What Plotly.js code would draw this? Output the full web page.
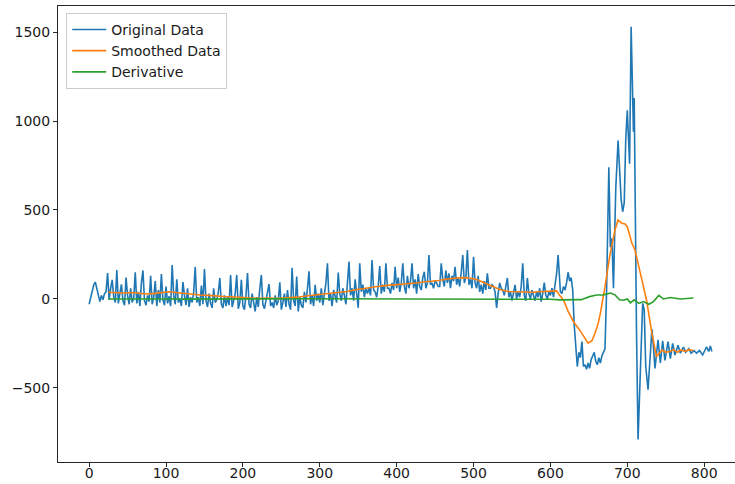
<!DOCTYPE html>
<html>
<head>
<meta charset="utf-8">
<script src="https://cdn.plot.ly/plotly-3.0.1.min.js"></script>
<style>
  html, body { margin: 0; padding: 0; overflow: hidden; background: #fff; }
  #chart { width: 745px; height: 484px; }
</style>
</head>
<body>
<div id="chart"></div>
<script>
// Raw signal: noisy baseline section sampled every 2 units
const baseX = [
  0,2,4,6,8,10,12,14,16,18,
  20,22,24,26,28,30,32,34,36,38,
  40,42,44,46,48,50,52,54,56,58,
  60,62,64,66,68,70,72,74,76,78,
  80,82,84,86,88,90,92,94,96,98,
  100,102,104,106,108,110,112,114,116,118,
  120,122,124,126,128,130,132,134,136,138,
  140,142,144,146,148,150,152,154,156,158,
  160,162,164,166,168,170,172,174,176,178,
  180,182,184,186,188,190,192,194,196,198,
  200,202,204,206,208,210,212,214,216,218,
  220,222,224,226,228,230,232,234,236,238,
  240,242,244,246,248,250,252,254,256,258,
  260,262,264,266,268,270,272,274,276,278,
  280,282,284,286,288,290,292,294,296,298,
  300,302,304,306,308,310,312,314,316,318,
  320,322,324,326,328,330,332,334,336,338,
  340,342,344,346,348,350,352,354,356,358,
  360,362,364,366,368,370,372,374,376,378,
  380,382,384,386,388,390,392,394,396,398,
  400,402,404,406,408,410,412,414,416,418,
  420,422,424,426,428,430,432,434,436,438,
  440,442,444,446,448,450,452,454,456,458,
  460,462,464,466,468,470,472,474,476,478,
  480,482,484,486,488,490,492,494,496,498,
  500,502,504,506,508,510,512,514,516,518,
  520,522,524,526,528,530,532,534,536,538,
  540,542,544,546,548,550,552,554,556,558,
  560,562,564,566,568,570,572,574,576,578,
  580,582,584,586,588,590,592,594,596,598,
  600,602,604,606,608,610
];
const baseY = [
  -30,10,45,80,95,60,15,-15,20,-5,
  30,40,146,-5,60,107,10,-20,163,-25,
  30,82,-10,-35,120,20,-30,60,-20,5,
  150,-25,40,-40,90,160,-10,-35,20,-15,
  130,-30,10,100,-40,50,-20,140,-5,-35,
  70,-25,15,-40,190,20,-30,110,-20,0,
  -40,95,20,-35,60,-45,10,-20,40,180,
  -20,10,-40,75,-30,168,-10,-45,30,-25,
  -50,60,-20,-5,35,118,-30,-50,20,-40,
  10,-35,135,-45,-10,30,135,-55,-20,107,
  -40,-60,20,146,-30,-50,30,-20,-70,10,
  -45,60,135,-30,-55,-10,40,84,-40,-20,
  -50,20,-35,-10,94,-60,-20,30,-45,50,
  -30,-60,175,-10,-40,126,-70,10,-35,-50,
  40,-20,60,155,-30,20,-40,80,-10,30,
  -20,60,-35,20,90,200,-10,30,-40,50,
  10,-20,148,30,-10,60,20,-30,90,210,
  20,60,-10,110,30,-50,200,40,80,10,
  60,30,60,20,219,50,40,10,70,185,
  30,80,40,200,60,60,30,90,50,180,
  60,120,40,90,200,70,30,130,60,100,
  200,60,110,30,140,70,50,120,153,60,
  90,247,80,90,60,100,90,70,70,200,
  110,70,160,90,144,60,130,100,180,80,
  120,70,150,247,90,120,275,80,110,60,
  237,90,60,130,40,80,30,100,50,144,
  60,60,80,70,40,-50,30,90,60,50,
  20,60,118,10,40,-10,30,79,0,40,
  10,70,200,20,-10,118,30,0,50,20,
  -10,40,10,60,-15,30,92,20,0,40,
  20,60,10,80,140,247
];

// Raw signal: transient section, irregular sample positions
const burstX = [
  612,613,615,617,619,621,623,625,627,629,
  631,633,635,637,639,641,643,645,647,649,
  651,653,655,657,659,661,663,665,667,669,
  671,673,676,678,680,682,685,688,690,692,
  694,696,698,700,701,703,705,707,708,709,
  710,712,714,716,718,720,722,724,727,730,
  732,734,736,740,743,746,749,753,756,759,
  762,766,769,773,776,780,783,787,790,794,
  798,803,806,808,810
];
const burstY = [
  130,40,30,70,50,90,150,100,120,50,
  -150,-300,-380,-300,-330,-240,-380,-370,-395,-360,
  -390,-340,-320,-300,-350,-370,-330,-360,-320,-300,
  -280,30,740,290,340,60,620,890,720,560,
  490,540,900,1060,960,760,1530,1120,940,1130,
  600,-190,-790,-570,-250,-25,-60,-380,-510,-290,
  -170,-270,-390,-230,-360,-235,-345,-240,-335,-250,
  -315,-260,-305,-270,-300,-280,-305,-290,-305,-290,
  -315,-270,-295,-265,-295
];

// Moving-average of the signal
const smoothX = [
  25,35,45,55,65,75,85,95,105,115,
  125,135,145,155,165,175,185,195,205,215,
  225,235,245,255,265,275,285,295,305,315,
  325,335,345,355,365,375,385,395,405,415,
  425,435,445,455,465,475,485,495,505,515,
  525,535,545,555,565,575,585,595,605,
  608,612,617,623,630,638,644,649,654,658,
  662,665,671,677,684,688,693,697,700,706,
  710,715,719,725,732,738,742,745,750,755,
  760,765,770,775,780,786
];
const smoothY = [
  38,35,33,36,30,28,31,36,40,35,
  30,26,22,20,15,14,12,8,6,4,
  3,5,2,4,8,12,18,22,28,32,
  36,42,50,58,65,70,75,78,82,85,
  90,95,98,104,112,117,120,118,108,88,
  68,52,42,40,38,38,40,42,45,
  45,20,-6,-70,-128,-174,-215,-249,-235,-193,
  -140,-80,69,238,388,444,425,421,406,313,
  275,190,107,-6,-193,-325,-305,-287,-300,-296,
  -285,-300,-287,-295,-285,-290
];

// Derivative of the smoothed signal
const derivX = [
  25,50,75,100,125,150,175,200,225,250,
  275,300,325,350,375,400,425,450,475,500,
  525,550,575,600,612,625,640,651,660,669,
  678,684,690,695,700,704,709,715,721,728,
  734,741,747,756,769,786
];
const derivY = [
  0,1,-1,0,-1,0,-1,0,0,0,
  1,1,1,2,1,1,1,1,1,0,
  -2,-1,-1,-2,-5,-6,-4,13,22,23,
  33,23,-5,-7,0,-22,-5,-25,-15,-30,
  -15,20,0,8,0,5
];

const xTicks = [0, 100, 200, 300, 400, 500, 600, 700, 800];
const yTicks = [-500, 0, 500, 1000, 1500];

const traces = [
  {
    x: baseX.concat(burstX), y: baseY.concat(burstY),
    type: 'scatter', mode: 'lines', name: 'Original Data',
    line: { color: '#1f77b4', width: 1.6 }
  },
  {
    x: smoothX, y: smoothY,
    type: 'scatter', mode: 'lines', name: 'Smoothed Data',
    line: { color: '#ff7f0e', width: 1.6 }
  },
  {
    x: derivX, y: derivY,
    type: 'scatter', mode: 'lines', name: 'Derivative',
    line: { color: '#2ca02c', width: 1.6 }
  }
];

const axisBase = {
  showgrid: false, zeroline: false,
  showline: true, mirror: true, linecolor: '#262626', linewidth: 1,
  ticks: 'outside', ticklen: 4, tickwidth: 1, tickcolor: '#262626',
  tickfont: { family: 'DejaVu Sans, sans-serif', size: 14, color: '#1a1a1a' }
};

const layout = {
  width: 745, height: 484,
  margin: { l: 58, r: 2, t: 6, b: 22, pad: 0 },
  paper_bgcolor: '#ffffff', plot_bgcolor: '#ffffff',
  showlegend: true,
  legend: {
    x: 0.012, y: 0.985, xanchor: 'left', yanchor: 'top',
    itemwidth: 34,
    bgcolor: 'rgba(255,255,255,0.8)', bordercolor: '#cccccc', borderwidth: 1,
    font: { family: 'DejaVu Sans, sans-serif', size: 14, color: '#1a1a1a' }
  },
  xaxis: Object.assign({}, axisBase, {
    range: [-40.5, 850.5], tickmode: 'array', tickvals: xTicks,
    ticktext: xTicks.map(String), ticklabelstandoff: -6
  }),
  yaxis: Object.assign({}, axisBase, {
    range: [-916.5, 1646.5], tickmode: 'array', tickvals: yTicks,
    ticktext: yTicks.map(v => v < 0 ? '\u2212' + Math.abs(v) : String(v))
  }),
  hovermode: false
};

Plotly.newPlot('chart', traces, layout, { staticPlot: true, displayModeBar: false });
</script>
</body>
</html>
